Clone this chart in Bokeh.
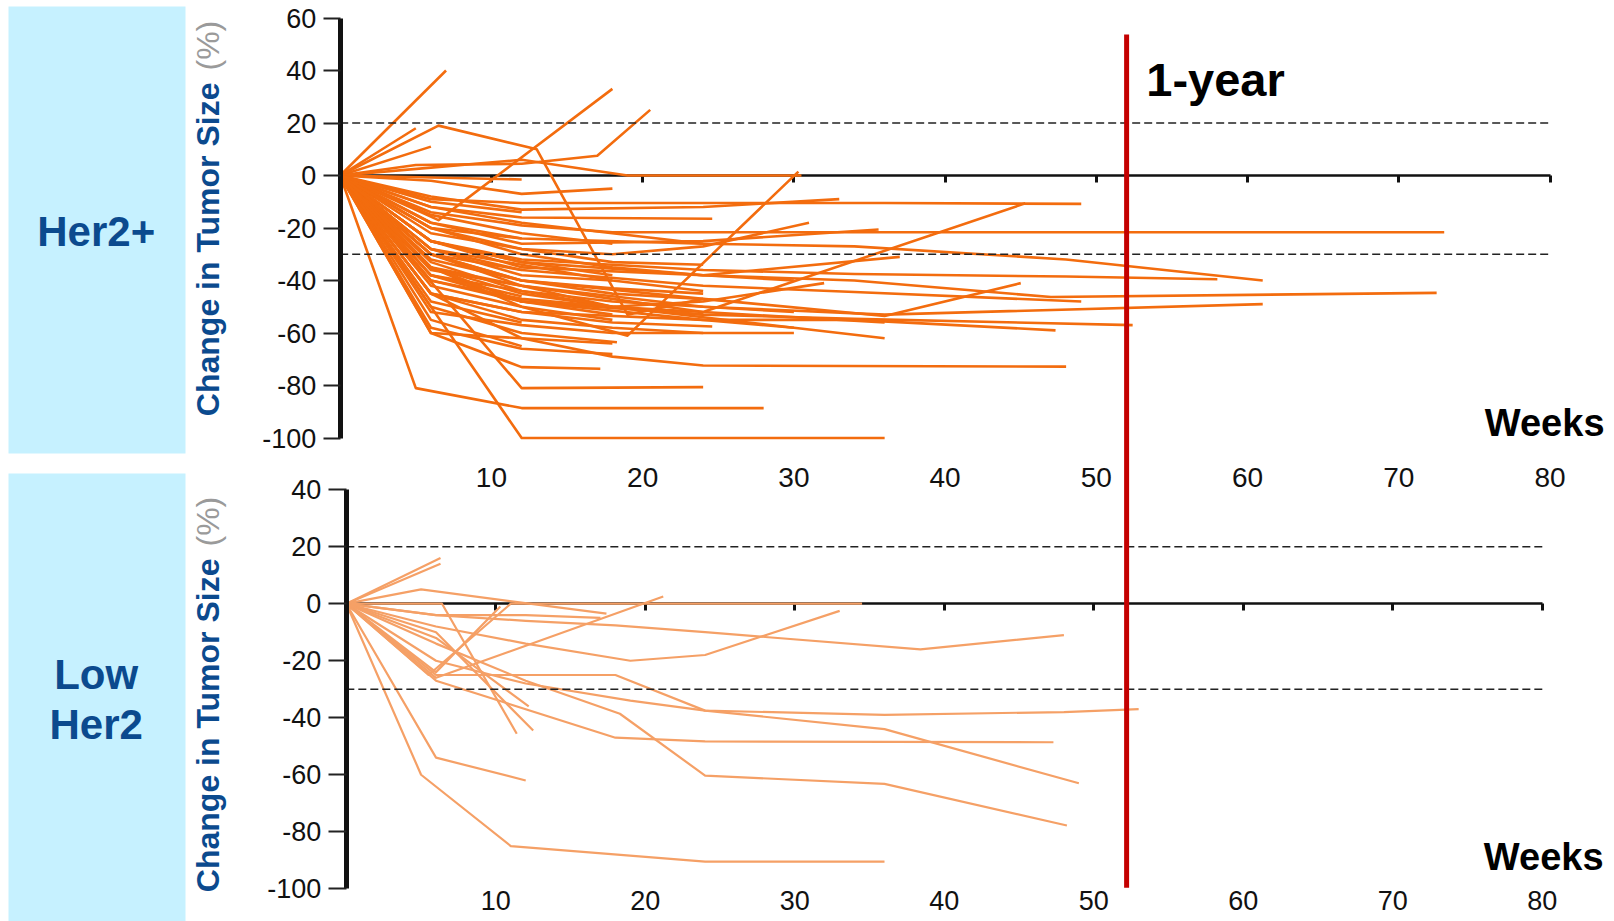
import math
from bokeh.plotting import figure
from bokeh.models import Range1d, LinearAxis, FixedTicker, Label, BoxAnnotation
from bokeh.layouts import row
from bokeh.embed import file_html
from bokeh.resources import INLINE

# ---------------- data ----------------
week_ticks = [10, 20, 30, 40, 50, 60, 70, 80]
week_tick_labels = ["10", "20", "30", "40", "50", "60", "70", "80"]
x_max = 80
one_year_week = 52
response_levels = [20, -30]

her2_yticks = [-100, -80, -60, -40, -20, 0, 20, 40, 60]
her2_ytick_labels = ["-100", "-80", "-60", "-40", "-20", "0", "20", "40", "60"]
low_yticks = [-100, -80, -60, -40, -20, 0, 20, 40]
low_ytick_labels = ["-100", "-80", "-60", "-40", "-20", "0", "20", "40"]

# Her2+ patients: weeks on study and % change in tumor size
her2_weeks = [
    [0, 7], [0, 5], [0, 6],
    [0, 6.5, 13, 19, 24],
    [0, 5, 12, 17, 20.5],
    [0, 6.5, 18],
    [0, 12],
    [0, 6, 12, 18],
    [0, 6, 12, 19, 30.5],
    [0, 6, 12, 19, 30.3],
    [0, 6, 12, 24, 33],
    [0, 6, 12, 24, 36, 49],
    [0, 6, 12, 24.6],
    [0, 6, 12, 18, 73],
    [0, 6, 12, 18, 24],
    [0, 6, 12, 18, 24, 31],
    [0, 6, 12, 24, 35.6],
    [0, 6, 12, 24, 37],
    [0, 6, 12, 24, 45.3],
    [0, 6, 12, 24, 34, 48, 61],
    [0, 6, 12, 24, 34, 48, 58],
    [0, 6, 12, 24, 34, 47, 72.5],
    [0, 6, 12, 24, 36, 61],
    [0, 6, 12, 24, 36, 45],
    [0, 6, 12, 24, 34, 52.4],
    [0, 6, 12, 24, 34, 49],
    [0, 6, 12, 24, 34, 47.3],
    [0, 6, 12, 18, 24, 48],
    [0, 6, 12, 24, 30, 36],
    [0, 6, 12, 18, 24, 32],
    [0, 6, 12, 18, 25.5],
    [0, 6, 12, 18, 24.6],
    [0, 6, 12, 18, 24, 30],
    [0, 6, 12, 18.3],
    [0, 6, 12, 17.2],
    [0, 12, 24],
    [0, 5, 12, 28],
    [0, 12, 36],
    [0, 6, 12, 18],
    [0, 6, 12, 18],
    [0, 6, 12, 18, 24],
    [0, 6, 12, 18],
    [0, 6, 12, 18, 24, 30],
    [0, 6, 12, 18, 24],
    [0, 6, 12, 18, 24, 36],
    [0, 6, 12, 18, 24],
    [0, 6, 12, 18, 24, 30],
    [0, 6, 12, 18, 24, 30],
    [0, 6, 12, 18],
    [0, 6, 12],
    [0, 6, 12, 18],
    [0, 6, 12],
    [0, 6, 12, 18],
    [0, 6, 12],
    [0, 6, 12, 18, 24],
    [0, 6, 12],
    [0, 6, 12, 18],
    [0, 6, 12, 18],
    [0, 6, 12],
    [0, 6, 12, 18, 24],
    [0, 6, 12],
]
her2_change = [
    [0, 40], [0, 18], [0, 11],
    [0, 19, 10, -53, -47],
    [0, 4, 4.5, 7.5, 25],
    [0, -17, 33],
    [0, -1.5],
    [0, -2, -7, -5],
    [0, 3, 6, 0, 0],
    [0, -35, -50, -61, 1.5],
    [0, -8, -13, -12, -9],
    [0, -9, -10.5, -10.5, -10.5, -10.8],
    [0, -12, -16, -16.5],
    [0, -14, -19, -21.6, -21.6],
    [0, -12, -18, -22, -26],
    [0, -20, -28, -30, -27, -18],
    [0, -18, -26, -25, -20.6],
    [0, -25, -35, -38, -31],
    [0, -35, -48, -52, -10.6],
    [0, -18, -24, -26, -27, -32, -40],
    [0, -25, -32, -36, -37.5, -38.5, -39.5],
    [0, -25, -33, -38, -40, -46.3, -44.7],
    [0, -35, -42, -50, -53, -49],
    [0, -30, -40, -47, -53.5, -41],
    [0, -40, -48, -53, -54.6, -57],
    [0, -28, -36, -42, -44.4, -48],
    [0, -45, -52, -55, -55, -59],
    [0, -45, -62, -69, -72.4, -72.8],
    [0, -38, -48, -55, -58, -62],
    [0, -30, -42, -50, -48, -41],
    [0, -30, -40, -45, -47.6],
    [0, -45, -52, -56, -57.5],
    [0, -35, -45, -50, -54, -58],
    [0, -50, -60, -63.5],
    [0, -60, -73, -73.6],
    [0, -81, -80.6],
    [0, -81, -88.6, -88.6],
    [0, -100, -100],
    [0, -60, -62, -64],
    [0, -28, -38, -40],
    [0, -32, -40, -43, -45],
    [0, -40, -47, -50],
    [0, -45, -55, -58, -60, -60],
    [0, -22, -28, -33, -34],
    [0, -36, -42, -47, -52, -56],
    [0, -52, -57, -60, -60],
    [0, -38, -44, -48, -50, -52],
    [0, -20, -30, -35, -38, -40],
    [0, -15, -22, -26],
    [0, -30, -36],
    [0, -42, -50, -55],
    [0, -48, -56],
    [0, -25, -33, -38],
    [0, -55, -65],
    [0, -33, -44, -50, -53],
    [0, -20, -24],
    [0, -35, -48, -53],
    [0, -58, -66, -68],
    [0, -38, -46],
    [0, -28, -34, -40, -44],
    [0, -10, -14],
]

# Low Her2 patients
low_weeks = [
    [0, 6.3], [0, 6.3],
    [0, 5, 17.4],
    [0, 6, 12, 17],
    [0, 6.4, 11.4],
    [0, 6, 12.5],
    [0, 6, 12.2],
    [0, 6, 12],
    [0, 5, 11, 24, 36],
    [0, 5.5, 11, 34.5],
    [0, 6, 10.3],
    [0, 6, 21.2],
    [0, 6, 12, 19, 24, 33],
    [0, 6, 12, 18, 24, 38.4, 48],
    [0, 6, 12, 19, 24, 36, 48, 53],
    [0, 6, 18, 24, 36, 49],
    [0, 6, 18, 24, 47.3],
    [0, 6, 12, 18.3, 24, 36, 48.2],
]
low_change = [
    [0, 14], [0, 16],
    [0, 5, -3.5],
    [0, -4, -4, -5],
    [0, 0, -45.6],
    [0, -10, -44.5],
    [0, -12, -36],
    [0, -54, -62],
    [0, -60, -85, -90.5, -90.5],
    [0, -25, 0, 0],
    [0, -24, -1],
    [0, -26, 2.5],
    [0, -8, -14, -20, -18, -2.5],
    [0, -4, -6, -7.6, -10, -16, -11],
    [0, -20, -28, -34, -37.5, -39, -38, -37],
    [0, -25, -25, -37.5, -44, -63],
    [0, -27, -47, -48.3, -48.6],
    [0, -14, -27, -38.6, -60.3, -63.2, -77.8],
]

assert len(her2_weeks) == len(her2_change)
assert len(low_weeks) == len(low_change)
for a, b in list(zip(her2_weeks, her2_change)) + list(zip(low_weeks, low_change)):
    assert len(a) == len(b), (a, b)

# ---------------- styles ----------------
BOX_BLUE = "#C6F1FF"
TEXT_BLUE = "#0B4A8E"
HER2_ORANGE = "#F36C0E"
LOW_ORANGE = "#F5A066"
RED = "#C40000"
FONT = "Liberation Sans"

PAGE_H = 921
SIDE_W = 250
MAIN_W = 1364

# ---------------- left column: panel names and axis titles ----------------
side = figure(width=SIDE_W, height=PAGE_H, x_range=Range1d(0, SIDE_W), y_range=Range1d(0, PAGE_H),
              output_backend="svg", toolbar_location=None, x_axis_type=None, y_axis_type=None,
              min_border=0)
side.outline_line_color = None
side.grid.grid_line_color = None
for bot, top in [(468, 915), (0, 448)]:
    side.add_layout(BoxAnnotation(left=8, right=185, bottom=bot, top=top,
                                  fill_color=BOX_BLUE, fill_alpha=1, line_color=None))
for t, yy in [("Her2+", 690.4), ("Low", 247), ("Her2", 197.4)]:
    side.add_layout(Label(x=95.7, y=yy, text=t, text_align="center", text_baseline="middle",
                          text_font=FONT, text_font_size="42px", text_font_style="bold",
                          text_color=TEXT_BLUE))
for end_y, start_y in [(839, 851), (363, 375)]:
    side.add_layout(Label(x=207, y=end_y, text="Change in Tumor Size", angle=math.pi / 2,
                          text_align="right", text_baseline="middle", text_font=FONT,
                          text_font_size="32px", text_font_style="bold", text_color=TEXT_BLUE))
    side.add_layout(Label(x=207, y=start_y, text="(%)", angle=math.pi / 2,
                          text_align="left", text_baseline="middle", text_font=FONT,
                          text_font_size="32px", text_color="#9A9A9A"))

# ---------------- main figure holding both panels ----------------
# frame spans the whole area (tick labels of the y axes drawn inside it, left of week 0)
p = figure(width=MAIN_W, height=PAGE_H, x_range=Range1d(-5.93, 84.26), y_range=Range1d(-284.19, 66.667),
           output_backend="svg", toolbar_location=None, x_axis_location=None, y_axis_location=None,
           min_border=0)
p.extra_x_ranges = {"lowx": Range1d(-6.41, 84.83)}
p.extra_y_ranges = {"low": Range1d(-111.47, 211.58)}
p.outline_line_color = None
p.grid.grid_line_color = None


def y_axis(ticks, labels, bounds, tick_out, xr="default", yr="default"):
    ax = LinearAxis(fixed_location=0, x_range_name=xr, y_range_name=yr,
                    ticker=FixedTicker(ticks=ticks),
                    major_label_overrides={t: l for t, l in zip(ticks, labels)},
                    bounds=bounds, axis_line_width=5, axis_line_color="#111111",
                    major_tick_out=tick_out, major_tick_in=0, major_tick_line_width=2,
                    major_tick_line_color="#222222", minor_tick_out=0, minor_tick_in=0,
                    major_label_standoff=7, major_label_text_font=FONT,
                    major_label_text_font_size="27px", major_label_text_color="#111111")
    p.add_layout(ax, "left")


def x_axes(label_loc, font_size, xr="default", yr="default"):
    zero_ax = LinearAxis(fixed_location=0, x_range_name=xr, y_range_name=yr,
                         ticker=FixedTicker(ticks=week_ticks), bounds=(0, x_max),
                         axis_line_width=2.5, axis_line_color="#111111",
                         major_tick_in=0, major_tick_out=7, major_tick_line_width=3,
                         major_tick_line_color="#111111", minor_tick_in=0, minor_tick_out=0,
                         major_label_text_alpha=0, major_label_text_font_size="1px",
                         level="underlay")
    p.add_layout(zero_ax, "below")
    lab_ax = LinearAxis(fixed_location=label_loc, x_range_name=xr, y_range_name=yr,
                        ticker=FixedTicker(ticks=week_ticks),
                        major_label_overrides={t: l for t, l in zip(week_ticks, week_tick_labels)},
                        axis_line_color=None, major_tick_line_color=None, minor_tick_line_color=None,
                        major_tick_out=0, major_tick_in=0, minor_tick_out=0, minor_tick_in=0,
                        major_label_standoff=0, major_label_text_font=FONT,
                        major_label_text_font_size=font_size, major_label_text_color="#111111")
    p.add_layout(lab_ax, "below")


# Her2+ panel (default ranges)
y_axis(her2_yticks, her2_ytick_labels, (-100, 60), 17)
x_axes(-111.6, "28px")
p.multi_line(xs=her2_weeks, ys=her2_change, line_color=HER2_ORANGE, line_width=2.6, line_join="round")
p.multi_line(xs=[[0, x_max] for _ in response_levels], ys=[[v, v] for v in response_levels],
             line_color="#222222", line_width=1.6, line_dash="8 4")
p.add_layout(Label(x=83.6, y=-94.1, text="Weeks", text_align="right", text_baseline="middle",
                   text_font=FONT, text_font_size="38px", text_font_style="bold", text_color="#000000"))

# Low Her2 panel (extra ranges)
y_axis(low_yticks, low_ytick_labels, (-100, 40), 18, "lowx", "low")
x_axes(-100.6, "27px", "lowx", "low")
p.multi_line(xs=low_weeks, ys=low_change, line_color=LOW_ORANGE, line_width=2.2, line_join="round",
             x_range_name="lowx", y_range_name="low")
p.multi_line(xs=[[0, x_max] for _ in response_levels], ys=[[v, v] for v in response_levels],
             line_color="#222222", line_width=1.6, line_dash="8 4",
             x_range_name="lowx", y_range_name="low")
p.add_layout(Label(x=84.1, y=-88.8, x_range_name="lowx", y_range_name="low", text="Weeks",
                   text_align="right", text_baseline="middle", text_font=FONT,
                   text_font_size="38px", text_font_style="bold", text_color="#000000"))

# 1-year marker spanning both panels (Her2+ units: 53.7 at top, bottom end at -99.6 of the low panel)
p.segment(x0=[one_year_week], x1=[one_year_week], y0=[53.7], y1=[-271.35],
          line_color=RED, line_width=5)
p.add_layout(Label(x=53.3, y=36.7, text="1-year", text_align="left", text_baseline="middle",
                   text_font=FONT, text_font_size="47px", text_font_style="bold",
                   text_color="#000000"))

layout = row(side, p, spacing=0)

open("out.html", "w").write(file_html(layout, INLINE))
